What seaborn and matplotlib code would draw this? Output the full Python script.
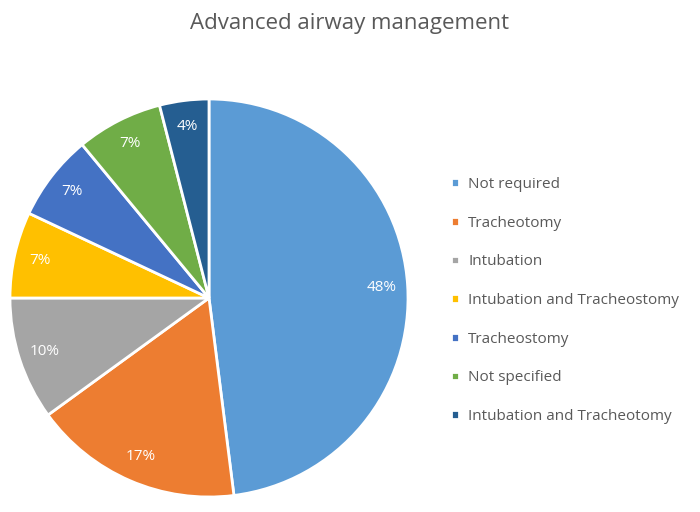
import matplotlib
matplotlib.use("Agg")
import matplotlib.pyplot as plt
import seaborn as sns

labels = ["Not required", "Tracheotomy", "Intubation", "Intubation and Tracheostomy",
          "Tracheostomy", "Not specified", "Intubation and Tracheotomy"]
values = [48, 17, 10, 7, 7, 7, 4]
colors = ["#5B9BD5", "#ED7D31", "#A5A5A5", "#FFC000", "#4472C4", "#70AD47", "#255E91"]

sns.set_theme(style="white")
plt.rcParams['font.family'] = ['Open Sans', 'DejaVu Sans']

fig = plt.figure(figsize=(7, 5.12), dpi=100)
ax = fig.add_axes([8 / 700, 13 / 512, 402 / 700, 402 / 512])
wedges, _, autotexts = ax.pie(values, colors=colors, startangle=90, counterclock=False,
                              autopct=lambda p: f"{p:.0f}%", pctdistance=0.87,
                              wedgeprops=dict(edgecolor="white", linewidth=2),
                              textprops=dict(color="white", fontsize=11))
ax.set_xlim(-1.01, 1.01)
ax.set_ylim(-1.01, 1.01)
ax.set_aspect("equal")
fig.suptitle("Advanced airway management", y=0.975, fontsize=16, color="#595959")
fig.legend(wedges, labels, loc="center left", bbox_to_anchor=(0.625, 0.413),
           frameon=False, fontsize=11, labelcolor="#595959", handlelength=0.5,
           handleheight=0.5, handletextpad=0.6, labelspacing=1.55)
fig.savefig("out.png", dpi=100)
